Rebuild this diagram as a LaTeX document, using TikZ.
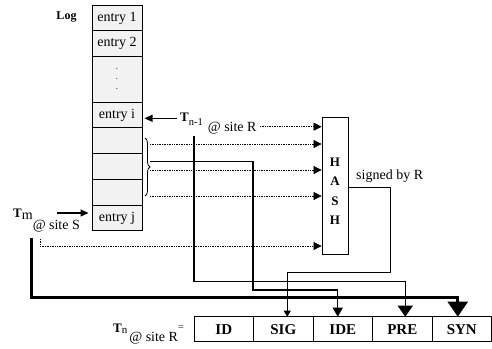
\documentclass[tikz,border=0pt]{standalone}
\usepackage{fontspec}
\setmainfont{Liberation Serif}
\usetikzlibrary{arrows.meta}
\usetikzlibrary{positioning}
\usetikzlibrary{decorations.pathreplacing}

\begin{document}
\begin{tikzpicture}[x=1pt, y=-1pt, font=\fontsize{14}{16}\selectfont,
  cell/.style={rectangle, draw, line width=0.8pt, fill=gray!10, minimum width=50pt, minimum height=25.75pt, inner sep=0pt, outer sep=0pt},
  field/.style={rectangle, draw, line width=0.8pt, minimum width=59.5pt, minimum height=25pt, inner sep=0pt, outer sep=0pt, font=\fontsize{15}{17}\selectfont\bfseries},
  dotarrow/.style={densely dotted, line width=0.7pt, -{Triangle[length=8pt, width=8pt]}},
  ptrarrow/.style={line width=1.1pt, -{Triangle[length=8pt, width=7pt]}},
  sigarrow/.style={line width=0.9pt, -{Triangle[length=6pt, width=7pt]}},
  idearrow/.style={line width=1.1pt, -{Triangle[length=9pt, width=10pt]}},
  prearrow/.style={line width=1.5pt, -{Triangle[length=11pt, width=15pt]}},
  synarrow/.style={line width=2.6pt, -{Triangle[length=15pt, width=20pt]}}]
\useasboundingbox (0,0) rectangle (492,348);

% the log
\node (LOG) [font=\fontsize{12}{14}\selectfont\bfseries] at (66.5,17) {Log};
\node (E1) [cell] at (117,17.9) {entry 1};
\node (E2) [cell, below=0pt of E1] {entry 2};
\node (DOTS) [cell, below=0pt of E2, minimum height=45.5pt] {};
\node (Ei) [cell, below=0pt of DOTS] {entry i};
\node (B1) [cell, below=0pt of Ei] {};
\node (B2) [cell, below=0pt of B1] {};
\node (B3) [cell, below=0pt of B2] {};
\node (Ej) [cell, below=0pt of B3] {entry j};
\node (VDOTS) [align=center, inner sep=0pt, font=\fontsize{8.5}{10}\selectfont] at (DOTS.center) {.\\.\\.};
\draw [decorate, decoration={brace, amplitude=5pt}, line width=0.8pt] (145,138) -- (145,196);

% hash and the record
\node (HASH) [draw, line width=0.8pt, minimum width=26pt, minimum height=137pt, inner sep=0pt] at (335,185.5) {};
\node (HASHTXT) [align=center, font=\fontsize{13}{19.5}\selectfont\bfseries] at (335,191) {H\\A\\S\\H};
\node (SIGNED) [anchor=west, inner sep=0pt] at (356,176) {signed by R};
\node (ID) [field] at (223.75,329.2) {ID};
\node (SIG) [field, right=0pt of ID] {SIG};
\node (IDE) [field, right=0pt of SIG] {IDE};
\node (PRE) [field, right=0pt of IDE] {PRE};
\node (SYN) [field, right=0pt of PRE] {SYN};

% labels
\node (TN1) [anchor=base west, inner sep=0pt] at (180,121.5) {\fontsize{13}{15}\selectfont\textbf{T}\raisebox{-3.5pt}{\fontsize{10.5}{12}\selectfont n-1}\hspace{5pt}\raisebox{-9.5pt}{\fontsize{14}{16}\selectfont @ site R}};
\node (TM) [anchor=base west, inner sep=0pt] at (13,217) {\fontsize{13}{15}\selectfont\textbf{T}\raisebox{-2pt}{\fontsize{14}{16}\selectfont m}\raisebox{-12pt}{\fontsize{14}{16}\selectfont @ site S}};
\node (TN) [anchor=base west, inner sep=0pt] at (113,332) {\fontsize{13}{15}\selectfont\textbf{T}\raisebox{-1pt}{\fontsize{11}{13}\selectfont n}\hspace{2pt}\raisebox{-9pt}{\fontsize{14}{16}\selectfont @ site R}\raisebox{1.5pt}{\fontsize{10}{12}\selectfont =}};

\coordinate (TN1arr) at (177,118.3);
\coordinate (TN1dot) at (260,126.7);
\coordinate (TN1foot) at (194,136);
\coordinate (TMarr) at (57,213);
\coordinate (TMdot) at (40,239);
\coordinate (TMfoot) at (31.7,238);
\coordinate (D1) at (150,144);
\coordinate (D2) at (150,170);
\coordinate (D3) at (150,196);
\coordinate (D5) at (40,246);
\coordinate (BR) at (150,161.7);
\coordinate (SC) at (390,187.3);

% pointers into the log
\draw [ptrarrow, shorten >=2.5pt] (TN1arr) -- (TN1arr -| Ei.east);
\draw [ptrarrow, shorten >=3.5pt] (TMarr) -- (TMarr -| Ej.west);

% inputs of the hash
\draw [dotarrow] (TN1dot) -- (TN1dot -| HASH.west);
\draw [dotarrow] (D1) -- (D1 -| HASH.west);
\draw [dotarrow] (D2) -- (D2 -| HASH.west);
\draw [dotarrow] (D3) -- (D3 -| HASH.west);
\draw [dotarrow] (TMdot) -- (D5) -- (D5 -| HASH.west);

% fields of the record
\draw [sigarrow] (SC -| HASH.east) -| (390,272.3) -| ([xshift=4pt]SIG.north);
\draw [idearrow] (BR) -| (253,290) -| ([xshift=-5pt]IDE.north);
\draw [prearrow] (TN1foot) -- (194,281.7) -| ([xshift=3pt]PRE.north);
\draw [synarrow] (TMfoot) -- (31.7,297.7) -| ([xshift=-4pt]SYN.north);
\end{tikzpicture}
\end{document}
